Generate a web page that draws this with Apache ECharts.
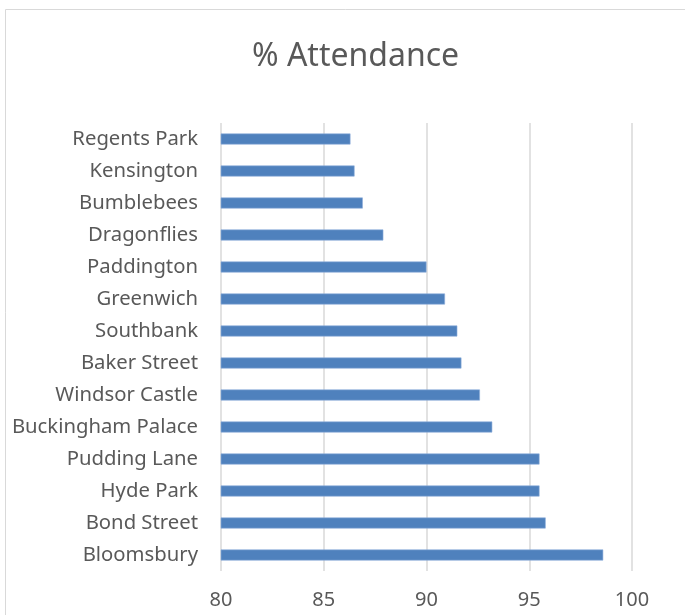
<!DOCTYPE html>
<html><head><meta charset="utf-8">
<script src="https://cdn.jsdelivr.net/npm/echarts@6/dist/echarts.min.js"></script>
<style>html,body{margin:0;padding:0;background:#fff;}#c{width:685px;height:615px;}</style>
</head><body><div id="c"></div>
<script>
const categories = ["Regents Park","Kensington","Bumblebees","Dragonflies","Paddington","Greenwich","Southbank","Baker Street","Windsor Castle","Buckingham Palace","Pudding Lane","Hyde Park","Bond Street","Bloomsbury"];
const attendance = [86.3,86.5,86.9,87.9,90.0,90.9,91.5,91.7,92.6,93.2,95.5,95.5,95.8,98.6];
const xTicks = [80,85,90,95,100];
const chart = echarts.init(document.getElementById('c'), null, {renderer:'canvas'});
const FONT = "Noto Sans";
chart.setOption({
  animation:false,
  graphic:[{type:'rect',shape:{x:5.5,y:9.5,width:700,height:700},style:{fill:'none',stroke:'#d9d9d9',lineWidth:1},silent:true}],
  title:{text:'% Attendance',left:247,top:36,textStyle:{fontFamily:FONT,fontSize:32,fontWeight:'normal',color:'#595959'}},
  grid:{left:221,right:53,top:123,bottom:44,containLabel:false},
  xAxis:{type:'value',min:xTicks[0],max:xTicks[xTicks.length-1],interval:5,
    axisLine:{show:false},axisTick:{show:false},
    splitLine:{show:true,lineStyle:{color:'#d9d9d9',width:1.5}},
    axisLabel:{fontFamily:FONT,fontSize:20,color:'#595959',margin:19}},
  yAxis:{type:'category',data:categories,inverse:true,
    axisLine:{show:false},axisTick:{show:false},
    axisLabel:{fontFamily:FONT,fontSize:20.3,color:'#595959',margin:23}},
  series:[{type:'bar',data:attendance,barWidth:11,
    itemStyle:{color:'#4F81BD',borderColor:'#8eaedb',borderWidth:0.6}}]
});
</script></body></html>
